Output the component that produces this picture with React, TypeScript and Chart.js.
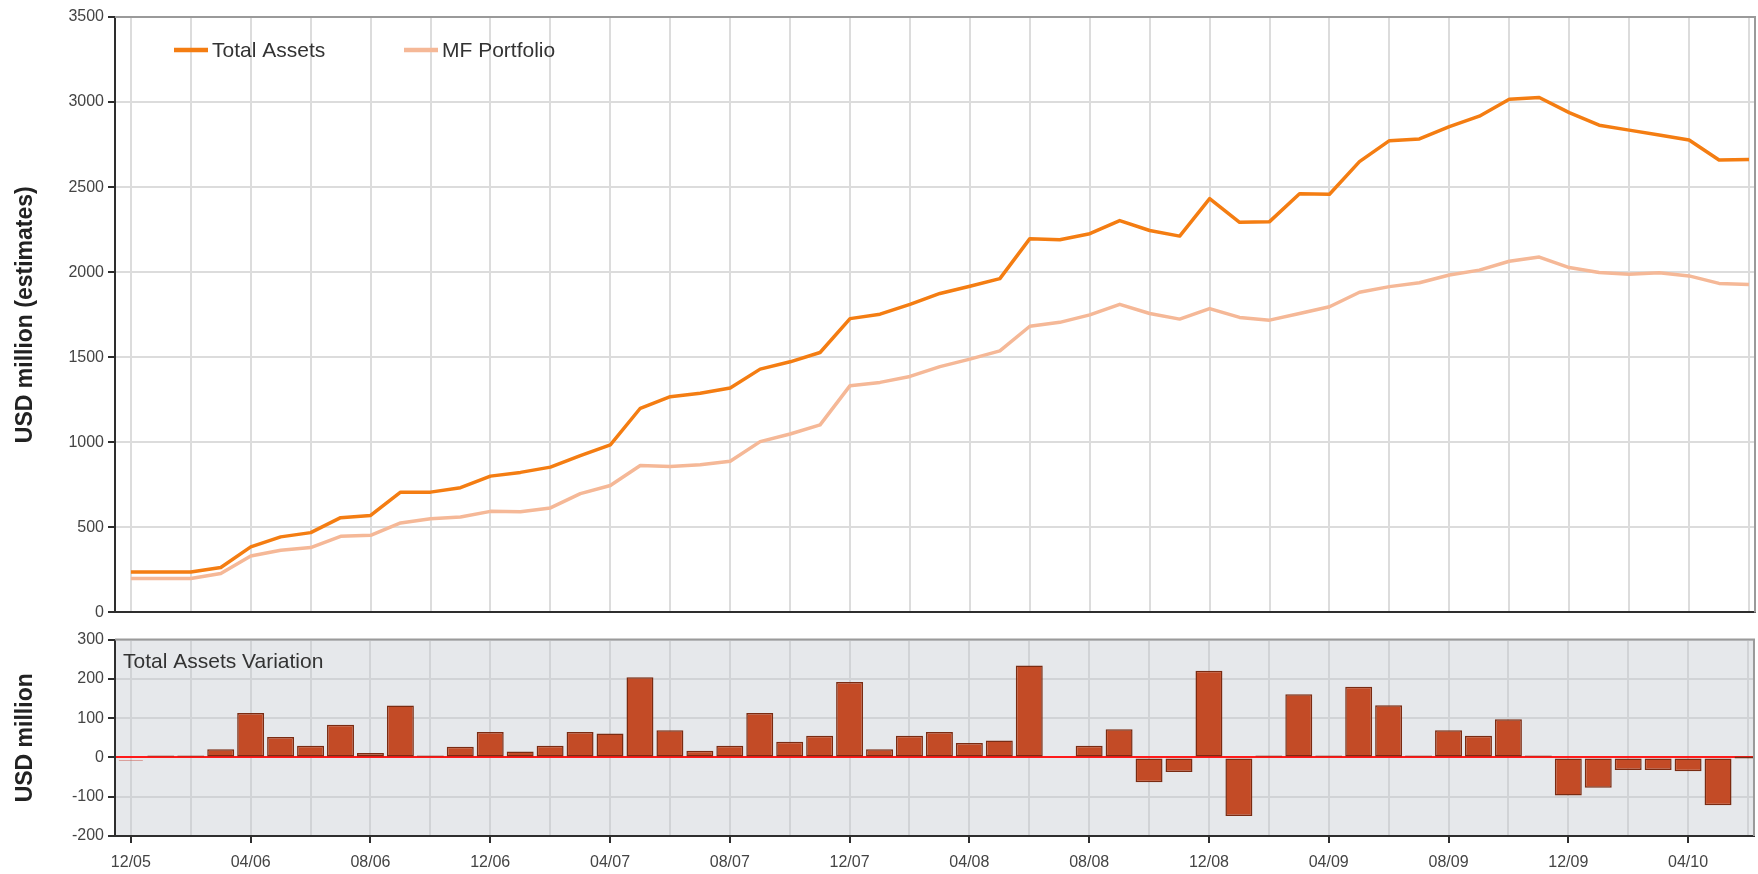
import React, { useEffect, useRef } from "react";
import { Chart, registerables } from "chart.js";

Chart.register(...registerables);

const months = [
  "12/05",
  "01/06", "02/06", "03/06", "04/06", "05/06", "06/06", "07/06", "08/06", "09/06", "10/06", "11/06", "12/06",
  "01/07", "02/07", "03/07", "04/07", "05/07", "06/07", "07/07", "08/07", "09/07", "10/07", "11/07", "12/07",
  "01/08", "02/08", "03/08", "04/08", "05/08", "06/08", "07/08", "08/08", "09/08", "10/08", "11/08", "12/08",
  "01/09", "02/09", "03/09", "04/09", "05/09", "06/09", "07/09", "08/09", "09/09", "10/09", "11/09", "12/09",
  "01/10", "02/10", "03/10", "04/10", "05/10", "06/10",
];

const totalAssets = [
  238, 238, 238, 264, 385, 444, 469, 557, 570, 707, 707, 733, 801,
  823, 854, 922, 985, 1200, 1268, 1288, 1319, 1430, 1473, 1528, 1727,
  1753, 1811, 1875, 1917, 1962, 2197, 2191, 2226, 2303, 2245, 2212, 2432,
  2293, 2297, 2461, 2458, 2650, 2773, 2783, 2855, 2917, 3016, 3027, 2938,
  2864, 2835, 2806, 2777, 2659, 2663,
];

const mfPortfolio = [
  199, 199, 199, 229, 332, 365, 381, 447, 453, 526, 551, 561, 594,
  592, 614, 698, 746, 864, 858, 868, 889, 1004, 1049, 1102, 1333,
  1352, 1387, 1445, 1489, 1537, 1682, 1705, 1749, 1811, 1757, 1724, 1786,
  1734, 1718, 1757, 1797, 1882, 1915, 1938, 1983, 2012, 2064, 2089, 2027,
  1998, 1988, 1996, 1978, 1934, 1928,
];

const assetsVariation = [
  -12, 1, 1, 21, 113, 52, 30, 83, 11, 132, 1, 27, 65,
  15, 30, 65, 61, 204, 69, 17, 30, 113, 40, 55, 192,
  21, 55, 65, 37, 43, 234, -10, 30, 72, -63, -37, 221,
  -149, 5, 161, 1, 180, 133, 2, 69, 55, 97, 4, -97,
  -77, -32, -32, -35, -122, 0,
];

const seriesNames = ["Total Assets", "MF Portfolio"];
const panelTitle = "Total Assets Variation";
const topAxisTitle = "USD million (estimates)";
const bottomAxisTitle = "USD million";

const FONT = '"Liberation Sans", Arial, Helvetica, sans-serif';
const TA_COLOR = "#f47d12";
const MF_COLOR = "#f5b897";
const BAR_COLOR = "#c34b26";
const BAR_BORDER = "#7a2b12";
const PALE_BAR = "rgba(205,95,85,0.7)";
const TICK_COLOR = "#444444";
const AXIS_COLOR = "#2e2e2e";

const X_MIN = -0.53;
const X_MAX = 54.2;
const AXIS_W = 115;

function monthGridTicks(scale: any) {
  scale.ticks = months
    .map((_, i) => i)
    .filter((i) => i % 2 === 0)
    .map((v) => ({ value: v }));
}

const framePlugin = {
  id: "frame",
  beforeDraw(chart: any, _args: any, opts: any) {
    const { ctx, chartArea: a } = chart;
    if (opts && opts.fill) {
      ctx.save();
      ctx.fillStyle = opts.fill;
      ctx.fillRect(a.left, a.top, a.right - a.left, a.bottom - a.top);
      ctx.restore();
    }
  },
  afterDraw(chart: any) {
    const { ctx, chartArea: a } = chart;
    ctx.save();
    ctx.strokeStyle = "#9a9a9a";
    ctx.lineWidth = 2;
    ctx.beginPath();
    ctx.moveTo(a.left, a.top);
    ctx.lineTo(a.right, a.top);
    ctx.lineTo(a.right, a.bottom);
    ctx.stroke();
    ctx.restore();
  },
};

const lineLegendPlugin = {
  id: "lineLegend",
  afterDatasetsDraw(chart: any) {
    const { ctx, chartArea: a } = chart;
    const ds = chart.data.datasets;
    ctx.save();
    ctx.font = `21px ${FONT}`;
    ctx.textBaseline = "middle";
    ctx.fillStyle = "#333333";
    const y = a.top + 33;
    ds.forEach((d: any, i: number) => {
      const x0 = a.left + 59 + i * 230;
      ctx.strokeStyle = d.borderColor;
      ctx.lineWidth = 4.5;
      ctx.beginPath();
      ctx.moveTo(x0, y);
      ctx.lineTo(x0 + 34, y);
      ctx.stroke();
      ctx.fillText(d.label, x0 + 38, y + 1);
    });
    ctx.restore();
  },
};

const panelTitlePlugin = {
  id: "panelTitle",
  afterDraw(chart: any) {
    const { ctx, chartArea: a } = chart;
    ctx.save();
    ctx.font = `21px ${FONT}`;
    ctx.textBaseline = "middle";
    ctx.fillStyle = "#333333";
    ctx.fillText(panelTitle, a.left + 8, a.top + 23);
    ctx.restore();
  },
};

export default function App() {
  const topRef = useRef<HTMLCanvasElement>(null);
  const botRef = useRef<HTMLCanvasElement>(null);

  useEffect(() => {
    const tickFont = { family: FONT, size: 16 };
    const titleFont = { family: FONT, size: 23, weight: "bold" as const };

    const top = new Chart(topRef.current as HTMLCanvasElement, {
      type: "line",
      data: {
        datasets: [
          {
            label: seriesNames[0],
            data: totalAssets.map((v, i) => ({ x: i, y: v })),
            borderColor: TA_COLOR,
            borderWidth: 3.5,
            pointRadius: 0,
            tension: 0,
            borderJoinStyle: "round",
          },
          {
            label: seriesNames[1],
            data: mfPortfolio.map((v, i) => ({ x: i, y: v })),
            borderColor: MF_COLOR,
            borderWidth: 3.5,
            pointRadius: 0,
            tension: 0,
            borderJoinStyle: "round",
          },
        ],
      },
      options: {
        animation: false,
        responsive: false,
        layout: { padding: { top: 17, right: 3, left: 0, bottom: 0 } },
        plugins: {
          legend: { display: false },
          tooltip: { enabled: false },
        },
        scales: {
          x: {
            type: "linear",
            min: X_MIN,
            max: X_MAX,
            offset: false,
            afterBuildTicks: monthGridTicks,
            afterFit: (s: any) => {
              s.height = 12;
            },
            grid: { color: "#dcdcdc", lineWidth: 2, drawTicks: false, offset: false },
            border: { color: AXIS_COLOR, width: 2 },
            ticks: { display: false },
          },
          y: {
            min: 0,
            max: 3500,
            afterFit: (s: any) => {
              s.width = AXIS_W;
            },
            ticks: {
              stepSize: 500,
              font: tickFont,
              color: TICK_COLOR,
              padding: 4,
              callback: (v: any) => String(v),
            },
            grid: { color: "#dcdcdc", lineWidth: 2, tickLength: 7, tickColor: AXIS_COLOR, tickWidth: 2 },
            border: { color: AXIS_COLOR, width: 2 },
            title: {
              display: true,
              text: topAxisTitle,
              font: titleFont,
              color: "#222222",
              padding: { top: 12, bottom: 0 },
            },
          },
        },
      },
      plugins: [framePlugin, lineLegendPlugin],
    });

    const bot = new Chart(botRef.current as HTMLCanvasElement, {
      type: "bar",
      data: {
        datasets: [
          {
            label: panelTitle,
            data: assetsVariation.map((v, i) => ({ x: i, y: v })),
            backgroundColor: (ctx: any) => {
              const v = ctx.raw ? ctx.raw.y : 0;
              return v < 0 && v > -20 ? PALE_BAR : BAR_COLOR;
            },
            borderColor: (ctx: any) => {
              const v = ctx.raw ? ctx.raw.y : 0;
              return v < 0 && v > -20 ? "rgba(0,0,0,0)" : BAR_BORDER;
            },
            borderWidth: 1.5,
            borderSkipped: false,
            minBarLength: 2,
            barPercentage: 0.9,
            categoryPercentage: 1,
          },
        ],
      },
      options: {
        animation: false,
        responsive: false,
        layout: { padding: { top: 11, right: 3, left: 0, bottom: 0 } },
        plugins: {
          legend: { display: false },
          tooltip: { enabled: false },
          frame: { fill: "#e6e8eb" },
        } as any,
        scales: {
          x: {
            type: "linear",
            min: X_MIN,
            max: X_MAX,
            offset: false,
            afterBuildTicks: monthGridTicks,
            afterFit: (s: any) => {
              s.height = 38;
            },
            grid: {
              color: "#d1d3d6",
              lineWidth: 2,
              offset: false,
              tickLength: 7,
              tickWidth: 2,
              tickColor: (ctx: any) => (ctx.tick && ctx.tick.value % 4 === 0 ? AXIS_COLOR : "rgba(0,0,0,0)"),
            },
            border: { color: AXIS_COLOR, width: 2 },
            ticks: {
              autoSkip: false,
              maxRotation: 0,
              font: tickFont,
              color: TICK_COLOR,
              padding: 10,
              callback: (v: any) => (Number(v) % 4 === 0 ? months[Number(v)] : ""),
            },
          },
          y: {
            min: -200,
            max: 300,
            afterFit: (s: any) => {
              s.width = AXIS_W;
            },
            ticks: {
              stepSize: 50,
              font: tickFont,
              color: TICK_COLOR,
              padding: 4,
              callback: (v: any) => (Number(v) % 100 === 0 ? String(v) : ""),
            },
            grid: {
              color: (ctx: any) => (ctx.tick && ctx.tick.value === 0 ? "#ff1a1a" : "#d1d3d6"),
              lineWidth: 2,
              tickLength: 7,
              tickWidth: 2,
              tickColor: (ctx: any) => (ctx.tick && ctx.tick.value % 100 === 0 ? AXIS_COLOR : "rgba(0,0,0,0)"),
            },
            border: { color: AXIS_COLOR, width: 2 },
            title: {
              display: true,
              text: bottomAxisTitle,
              font: titleFont,
              color: "#222222",
              padding: { top: 12, bottom: 0 },
            },
          },
        },
      },
      plugins: [framePlugin, panelTitlePlugin],
    });

    return () => {
      top.destroy();
      bot.destroy();
    };
  }, []);

  return (
    <div style={{ position: "absolute", left: 0, top: 0, width: 1758, height: 874, background: "#ffffff" }}>
      <canvas ref={topRef} width={1758} height={626} style={{ position: "absolute", left: 0, top: 0 }} />
      <canvas ref={botRef} width={1758} height={248} style={{ position: "absolute", left: 0, top: 626 }} />
    </div>
  );
}
